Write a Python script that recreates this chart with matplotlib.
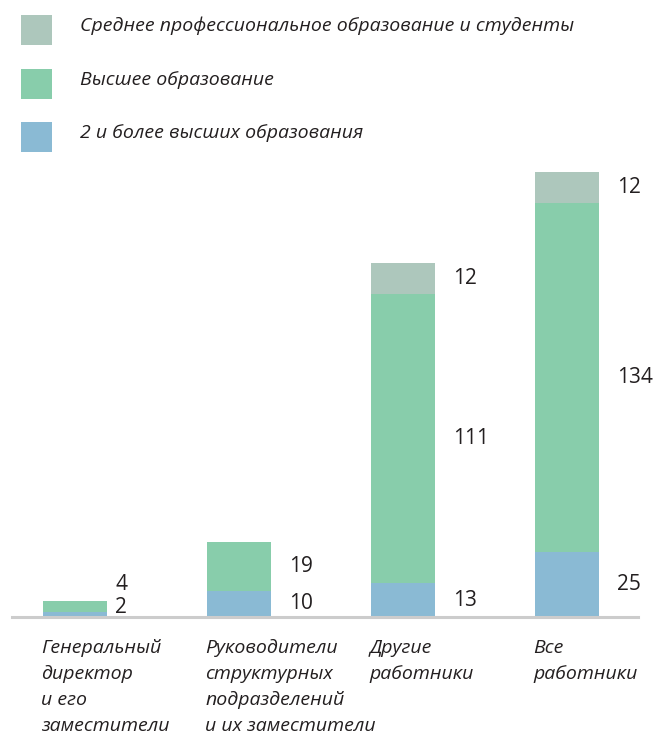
import matplotlib
matplotlib.use("Agg")
import matplotlib.pyplot as plt
from matplotlib.patches import Rectangle

categories=["Генеральный\nдиректор\nи его\nзаместители",
            "Руководители\nструктурных\nподразделений\nи их заместители",
            "Другие\nработники",
            "Все\nработники"]
series_names=["Среднее профессиональное образование и студенты",
              "Высшее образование",
              "2 и более высших образования"]
two_plus=[2,10,13,25]
higher=[4,19,111,134]
secondary=[0,0,12,12]

c_sec="#adc7bc"
c_high="#88cdab"
c_two="#8abad4"
FONT="Open Sans"

fig=plt.figure(figsize=(6.54,7.37),dpi=100)
W,H=654,737
def fx(px): return px/W
def fy(py): return 1-py/H

ax=fig.add_axes([fx(12),fy(617),fx(638)-fx(12),fy(172)-fy(617)])
x=list(range(len(categories)))
bw=0.39
ax.bar(x,two_plus,width=bw,color=c_two,align="center")
ax.bar(x,higher,width=bw,bottom=two_plus,color=c_high)
bot2=[a+b for a,b in zip(two_plus,higher)]
ax.bar(x,secondary,width=bw,bottom=bot2,color=c_sec)
ax.set_xlim(-63/164,(638-75)/164)
ax.set_ylim(0,171)
ax.axhline(0,color="#cccccc",lw=2.2,clip_on=False)
for s in ax.spines.values():
    s.set_visible(False)
ax.set_xticks([]);ax.set_yticks([])

num_kw=dict(fontsize=15,family=FONT,color="#231f20",va="center",ha="left")
for i in x:
    off=0.05 if i==0 else 0.11
    xl=i+bw/2+off
    if i==0:
        ax.text(xl,12.5,str(higher[i]),**num_kw)
        ax.text(xl,3.8,str(two_plus[i]),**num_kw)
        continue
    ax.text(xl,two_plus[i]/2,str(two_plus[i]),**num_kw)
    ax.text(xl,two_plus[i]+higher[i]/2,str(higher[i]),**num_kw)
    if secondary[i]:
        ax.text(xl,bot2[i]+secondary[i]/2,str(secondary[i]),**num_kw)

# category labels, left aligned at bar edge
for i,lab in enumerate(categories):
    ax.text(i-bw/2-0.01,-8.5,lab,fontsize=14,family=FONT,style="italic",
            color="#231f20",ha="left",va="top",linespacing=1.57,clip_on=False)

# legend
for col,name,yc in zip([c_sec,c_high,c_two],series_names,[30,84,137]):
    fig.add_artist(Rectangle((fx(21),fy(yc+15)),fx(31),fy(yc-15)-fy(yc+15),
                             facecolor=col,edgecolor="none",transform=fig.transFigure))
    fig.text(fx(80),fy(yc-4),name,fontsize=14,family=FONT,style="italic",
             color="#231f20",ha="left",va="center")

fig.savefig("out.png",dpi=100)
